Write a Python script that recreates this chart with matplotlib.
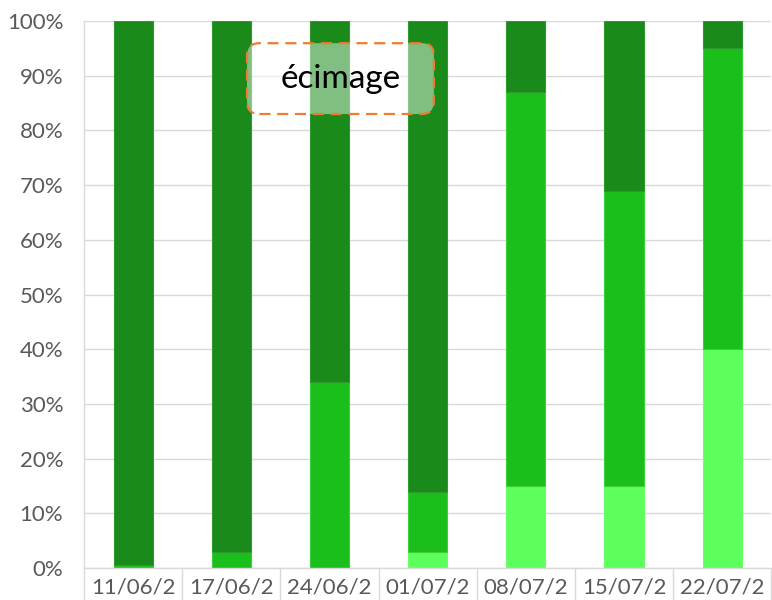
import numpy as np
import matplotlib
matplotlib.use("Agg")
import matplotlib.pyplot as plt
from matplotlib.patches import FancyBboxPatch
from matplotlib.ticker import PercentFormatter

plt.rcParams["font.family"] = ["Lato", "DejaVu Sans"]

# ---- data ----
dates = ["11/06/2", "17/06/2", "24/06/2", "01/07/2", "08/07/2", "15/07/2", "22/07/2"]
light = [0, 0, 0, 3, 15, 15, 40]
medium = [0.5, 3, 34, 11, 72, 54, 55]
dark = [99.5, 97, 66, 86, 13, 31, 5]

COLORS = {"light": "#5CFF5C", "medium": "#1BBF1B", "dark": "#1A8A1A"}
EDGES = {"light": "#6CFF6C", "medium": "#3CCF3C", "dark": "#2E9A2E"}
GRAY = "#595959"
GRID = "#D9D9D9"

fig = plt.figure(figsize=(7.72, 6.0), dpi=100)
ax = fig.add_axes([0.109, 0.053, 0.89, 0.912])

x = np.arange(len(dates))
w = 0.4
bottom = np.zeros(len(dates))
for key, vals in [("light", light), ("medium", medium), ("dark", dark)]:
    vals = np.array(vals, dtype=float)
    ax.bar(x, vals, w, bottom=bottom, color=COLORS[key],
           edgecolor=EDGES[key], linewidth=0.8, zorder=2)
    bottom += vals

ax.set_xlim(-0.5, len(dates) - 0.5)
ax.set_ylim(0, 100)
ax.set_yticks(np.arange(0, 101, 10))
ax.yaxis.set_major_formatter(PercentFormatter(decimals=0))
ax.set_xticks(x)
ax.set_xticklabels(dates)
ax.set_xticks(np.arange(-0.5, len(dates), 1.0), minor=True)

ax.tick_params(axis="y", length=0, labelsize=16, labelcolor=GRAY, pad=15)
ax.tick_params(axis="x", which="major", length=0, labelsize=16, labelcolor=GRAY, pad=7)
ax.tick_params(axis="x", which="minor", length=24, width=1, color=GRID)

ax.grid(axis="y", color=GRID, lw=1, zorder=0)
for s in ["top", "right"]:
    ax.spines[s].set_visible(False)
ax.spines["left"].set_color(GRID)
ax.spines["bottom"].set_color(GRID)
ax.spines["left"].set_linewidth(1)
ax.spines["bottom"].set_linewidth(1)

# annotation box "écimage"
box = FancyBboxPatch((0.32, 0.81), 0.242, 0.118,
                     boxstyle="round,pad=0,rounding_size=0.016",
                     mutation_aspect=772 / 600,
                     transform=fig.transFigure,
                     facecolor=(1, 1, 1, 0.45), edgecolor="#ED7D31",
                     linewidth=1.6, linestyle=(0, (5, 3)), zorder=5)
fig.patches.append(box)
fig.text(0.441, 0.869, "écimage", ha="center", va="center",
         fontsize=24, color="black", zorder=6)

plt.savefig("out.png", dpi=100)
